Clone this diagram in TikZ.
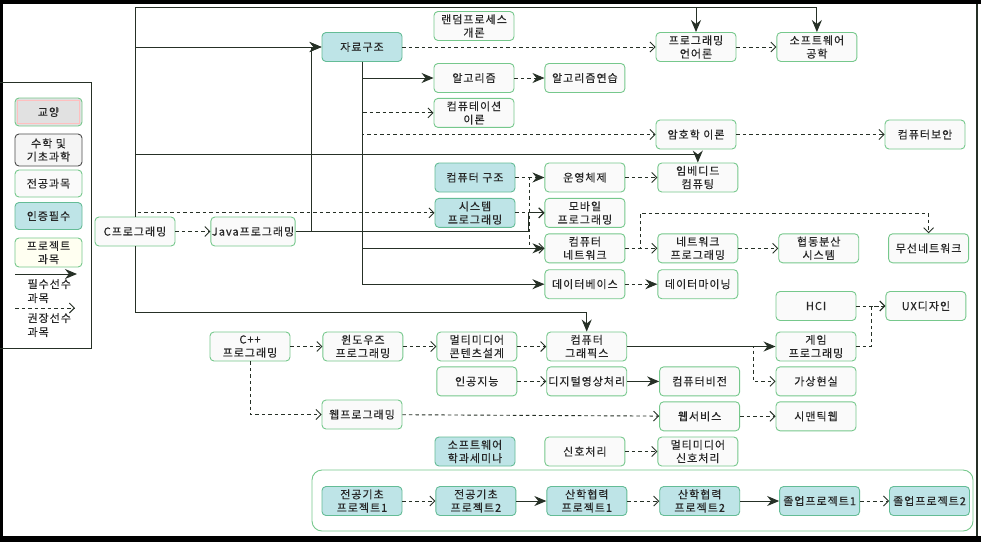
\documentclass[tikz,border=0pt]{standalone}
\usepackage{fontspec}
\setmainfont{Noto Sans CJK KR}[LetterSpace=9, FakeBold=0.3]
\usetikzlibrary{arrows.meta, positioning}

\definecolor{boxline}{RGB}{118,200,140}
\definecolor{boxfill}{RGB}{250,250,250}
\definecolor{corefill}{RGB}{190,228,231}
\definecolor{coreline}{RGB}{100,188,150}
\definecolor{wire}{RGB}{38,48,38}
\definecolor{genfill}{RGB}{225,225,225}
\definecolor{projfill}{RGB}{255,255,241}

\begin{document}
\begin{tikzpicture}[x=1pt, y=-1pt,
    box/.style={rectangle, rounded corners=4pt, draw=boxline, fill=boxfill, line width=0.9pt,
                minimum width=80pt, minimum height=29pt, inner sep=1pt, align=center,
                text=black!85, font=\fontsize{11}{13.3}\selectfont},
    core/.style={box, fill=corefill, draw=coreline},
    legbox/.style={box, minimum width=67pt, minimum height=27pt},
    panel/.style={rectangle, rounded corners=10pt, draw=boxline, fill=white, line width=0.9pt,
                  minimum width=661pt, minimum height=61pt},
    req/.style={-{Stealth[length=12pt, width=10pt]}, draw=wire, line width=1pt},
    rec/.style={-{Straight Barb[length=5pt, width=10pt]}, draw=wire, line width=0.9pt,
                dash pattern=on 3.5pt off 3pt},
    recf/.style={rec, -{Stealth[length=12pt, width=10pt]}},
    note/.style={anchor=west, align=left, text=black!85, font=\fontsize{11}{14}\selectfont},
    node distance=5.5pt and 32pt
  ]
    \useasboundingbox (0,0) rectangle (981,542);
    \fill[white] (0,0) rectangle (981,542);
    \fill[black] (0,0) rectangle (981,4);
    \fill[black] (0,0) rectangle (2.5,542);
    \fill[black] (0,536) rectangle (981,542);
    \draw[wire, line width=1.2pt] (977,4) -- (977,536);
    \draw[wire] (0,82) -| (91,348) -- (0,348);

    % legend
    \node[legbox, fill=genfill, minimum height=28pt] (lgen) at (48.5,112) {교양};
    \draw[red!25] ([shift={(3pt,-3pt)}]lgen.north west) rectangle ([shift={(-3pt,3pt)}]lgen.south east);
    \node[legbox, draw=black!70, fill=black!4, minimum height=32pt] (lsci) at (48.5,150) {수학 및\\기초과학};
    \node[legbox] (lmajor) at (48.5,183.5) {전공과목};
    \node[legbox, core, minimum width=67pt, minimum height=27pt] (lcert) at (48.5,216) {인증필수};
    \node[legbox, fill=projfill, minimum height=29pt] (lproj) at (48.5,252.5) {프로젝트\\과목};
    \coordinate (lreqA) at (15,274);
    \coordinate (lreqB) at (77,274);
    \coordinate (lrecA) at (15,308);
    \coordinate (lrecB) at (75,308);
    \draw[req] (lreqA) -- (lreqB);
    \draw[rec] (lrecA) -- (lrecB);
    \node[note] (lreqtxt) at (24,291) {필수선수\\과목};
    \node[note] (lrectxt) at (24,325) {권장선수\\과목};

    % courses
    \node[box] (cprog) at (135,231.5) {C프로그래밍};
    \node[box, right=35pt of cprog] (java) {Java프로그래밍};
    \node[core] (ds) at (362,47) {자료구조};
    \node[box] (random) at (474,26) {랜덤프로세스\\개론};
    \node[box] (algo) at (474,78) {알고리즘};
    \node[box, right=30pt of algo] (algoex) {알고리즘연습};
    \node[box, below=5pt of algo] (comput) {컴퓨테이션\\이론};
    \node[box] (plang) at (696,47) {프로그래밍\\언어론};
    \node[box, right=40pt of plang] (sweng) {소프트웨어\\공학};
    \node[box] (crypto) at (696,134.5) {암호학 이론};
    \node[box] (security) at (925,134.5) {컴퓨터보안};

    \node[core] (arch) at (475,177.5) {컴퓨터 구조};
    \node[core, below=of arch] (sysprog) {시스템\\프로그래밍};
    \node[box, right=29pt of arch] (os) {운영체제};
    \node[box, below=of os] (mobile) {모바일\\프로그래밍};
    \node[box, below=of mobile] (network) {컴퓨터\\네트워크};
    \node[box, below=6pt of network] (db) {데이터베이스};
    \node[box, right=of os] (embedded) {임베디드\\컴퓨팅};
    \node[box, right=of network] (netprog) {네트워크\\프로그래밍};
    \node[box, right=of db] (mining) {데이터마이닝};
    \node[box, right=40pt of netprog] (distrib) {협동분산\\시스템};
    \node[box, right=29pt of distrib] (wireless) {무선네트워크};
    \node[box] (hci) at (816,306) {HCI};
    \node[box, right=29pt of hci] (ux) {UX디자인};

    \node[box] (cpp) at (250,346.5) {C++\\프로그래밍};
    \node[box, right=of cpp] (winprog) {윈도우즈\\프로그래밍};
    \node[box, right=33pt of winprog] (mmdesign) {멀티미디어\\콘텐츠설계};
    \node[box, right=29pt of mmdesign] (graphics) {컴퓨터\\그래픽스};
    \node[box] (game) at (816,346.5) {게임\\프로그래밍};
    \node[box, below=5pt of mmdesign] (ai) {인공지능};
    \node[box, right=29pt of ai] (image) {디지털영상처리};
    \node[box, right=of image] (vision) {컴퓨터비전};
    \node[box, below=5pt of game] (vr) {가상현실};
    \node[box, below=5pt of vision] (websvc) {웹서비스};
    \node[box, below=5pt of vr] (semantic) {시맨틱웹};
    \node[box] (web) at (362,414.5) {웹프로그래밍};

    \node[core] (seminar) at (475,451.5) {소프트웨어\\학과세미나};
    \node[box, right=29pt of seminar] (signal) {신호처리};
    \node[box, right=of signal] (mmsignal) {멀티미디어\\신호처리};

    % projects
    \node[panel] (projarea) at (642.5,500.5) {};
    \node[core] (found1) at (362,501) {전공기초\\프로젝트1};
    \node[core, right=33pt of found1] (found2) {전공기초\\프로젝트2};
    \node[core, right=30pt of found2] (coop1) {산학협력\\프로젝트1};
    \node[core, right=of coop1] (coop2) {산학협력\\프로젝트2};
    \node[core, right=39pt of coop2] (grad1) {졸업프로젝트1};
    \node[core, right=29pt of grad1] (grad2) {졸업프로젝트2};

    \coordinate (topbus) at (0,7);
    \coordinate (midbus) at (0,154);
    \coordinate (lowbus) at (0,312);

    \draw[req] (cprog.north) |- (topbus -| sweng) -- (sweng.north);
    \draw[req] (cprog.north) |- (topbus -| plang) -- (plang.north);
    \draw[req] (cprog.north) |- (ds.west);
    \draw[req] (cprog.north) |- (midbus -| embedded) -- (embedded.north);
    \draw[req] (cprog.south) |- (lowbus -| graphics) -- (graphics.north);
    \draw[rec] (cprog.north) |- (sysprog.west);
    \draw[rec] (cprog) -- (java);
    \draw[req] (java.east) -- ++(16,0) |- (ds.west);
    \draw[req, -{Straight Barb[length=5pt, width=10pt]}] (java.east) -| ([xshift=-16pt]mobile.west) -- (mobile.west);

    \draw[req] (ds.south) |- (algo.west);
    \draw[rec] (ds.south) |- (comput.west);
    \draw[rec] (ds.south) |- (crypto.west);
    \draw[req] (ds.south) |- (network.west);
    \draw[req] (ds.south) |- (db.west);
    \draw[rec] (ds) -- (plang);
    \draw[rec] (plang) -- (sweng);
    \draw[recf] (algo) -- (algoex);
    \draw[rec] (crypto) -- (security);

    \draw[recf] (arch) -- (os);
    \draw[rec] (arch.east) -- ++(14,0) |- (network.west);
    \draw[rec] (sysprog) -- (mobile);
    \draw[rec] (os) -- (embedded);
    \draw[rec] (network) -- (netprog);
    \draw[rec] (network.east) -- ++(15,0) |- ([yshift=20pt]wireless.north) -- (wireless.north);
    \draw[recf] (db) -- (mining);
    \draw[rec] (netprog) -- (distrib);
    \draw[rec] (hci) -- (ux);
    \draw[rec] (game.east) -- ++(15,0) |- (ux.west);

    \draw[req] (graphics) -- (game);
    \draw[rec] (graphics.east) -- ++(126,0) |- (vr.west);
    \draw[rec] (cpp) -- (winprog);
    \draw[rec] (winprog) -- (mmdesign);
    \draw[rec] (mmdesign) -- (graphics);
    \draw[rec] (ai) -- (image);
    \draw[req] (image) -- (vision);
    \draw[rec] (cpp.south) |- (web.west);
    \draw[rec] (web) -- (websvc);
    \draw[rec] (websvc) -- (semantic);
    \draw[rec] (signal) -- (mmsignal);

    \draw[rec] (found1) -- (found2);
    \draw[req] (found2) -- (coop1);
    \draw[rec] (coop1) -- (coop2);
    \draw[req] (coop2) -- (grad1);
    \draw[rec] (grad1) -- (grad2);
  \end{tikzpicture}
\end{document}
